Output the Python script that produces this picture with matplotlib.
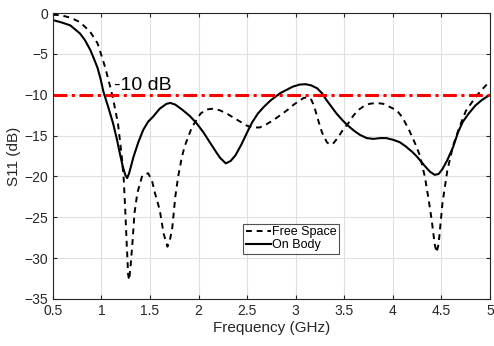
import matplotlib
matplotlib.use("Agg")
import matplotlib.pyplot as plt

plt.rcParams['font.family'] = ['Liberation Sans', 'DejaVu Sans']

freq_free = [0.5, 0.58, 0.68, 0.78, 0.885, 0.96, 0.99, 1.04, 1.09, 1.12, 1.17, 1.21, 1.23, 1.245,
             1.26, 1.275, 1.285, 1.3, 1.32, 1.34, 1.37, 1.42, 1.48, 1.52, 1.55, 1.6, 1.64, 1.68,
             1.71, 1.73, 1.76, 1.79, 1.83, 1.86, 1.93, 2.02, 2.08, 2.15, 2.22, 2.29, 2.36, 2.43,
             2.5, 2.56, 2.63, 2.7, 2.77, 2.84, 2.91, 2.98, 3.04, 3.08, 3.12, 3.16, 3.19, 3.22,
             3.27, 3.32, 3.35, 3.39, 3.43, 3.48, 3.54, 3.59, 3.64, 3.7, 3.76, 3.83, 3.9, 3.97,
             4.04, 4.1, 4.17, 4.23, 4.28, 4.33, 4.37, 4.4, 4.43, 4.45, 4.47, 4.51, 4.56, 4.62,
             4.69, 4.75, 4.82, 4.87, 4.93, 5.0]
s11_free = [-0.2, -0.25, -0.55, -1.1, -2.3, -3.7, -4.8, -6.7, -9.0, -10.5, -13.5, -17.6, -20.4, -24.1,
            -28.2, -32.0, -32.7, -31.0, -28.0, -24.5, -22.0, -19.9, -19.6, -20.5, -22.0, -24.1, -27.0, -28.6,
            -27.5, -26.2, -22.5, -20.0, -17.5, -16.2, -14.0, -12.3, -11.8, -11.7, -11.9, -12.3, -12.8, -13.3,
            -13.8, -14.0, -14.0, -13.6, -13.1, -12.5, -11.9, -11.2, -10.7, -10.4, -10.3, -10.6, -11.4, -12.7,
            -14.6, -15.8, -16.1, -15.9, -15.3, -14.4, -13.5, -12.6, -11.9, -11.4, -11.1, -11.0, -11.1, -11.5,
            -11.9, -12.8, -14.4, -16.0, -17.5, -20.1, -23.0, -25.4, -28.3, -29.3, -28.3, -23.3, -19.3, -16.2,
            -13.8, -12.0, -10.8, -10.0, -9.2, -8.3]

freq_body = [0.5, 0.58, 0.68, 0.78, 0.83, 0.885, 0.92, 0.96, 0.99, 1.02, 1.07, 1.12, 1.16, 1.19,
             1.22, 1.245, 1.265, 1.285, 1.31, 1.33, 1.38, 1.43, 1.48, 1.53, 1.6, 1.67, 1.71, 1.76,
             1.84, 1.91, 1.98, 2.05, 2.12, 2.18, 2.22, 2.28, 2.33, 2.38, 2.44, 2.5, 2.55, 2.61,
             2.67, 2.74, 2.84, 2.97, 3.04, 3.1, 3.16, 3.22, 3.27, 3.32, 3.37, 3.42, 3.48, 3.53,
             3.6, 3.66, 3.73, 3.8, 3.87, 3.93, 4.0, 4.07, 4.13, 4.2, 4.25, 4.32, 4.38, 4.43,
             4.47, 4.51, 4.56, 4.62, 4.67, 4.72, 4.78, 4.85, 4.92, 5.0]
s11_body = [-0.85, -1.1, -1.5, -2.5, -3.3, -4.5, -5.5, -6.7, -8.0, -9.6, -11.5, -13.5, -15.5, -17.2,
            -18.8, -19.8, -20.2, -19.6, -18.5, -17.6, -15.8, -14.3, -13.3, -12.7, -11.7, -11.1, -11.0, -11.2,
            -11.9, -12.6, -13.5, -14.6, -15.9, -17.0, -17.7, -18.4, -18.1, -17.4, -16.1, -14.6, -13.4, -12.3,
            -11.5, -10.7, -9.8, -9.0, -8.75, -8.7, -8.85, -9.2, -9.8, -10.7, -11.5, -12.3, -13.1, -13.7,
            -14.4, -14.9, -15.3, -15.4, -15.3, -15.3, -15.5, -15.8, -16.3, -17.0, -17.6, -18.6, -19.4, -19.8,
            -19.7, -19.1, -18.0, -16.4, -14.6, -13.3, -12.3, -11.3, -10.6, -10.0]

threshold = -10
threshold_label = "-10 dB"
x_ticks = [0.5, 1, 1.5, 2, 2.5, 3, 3.5, 4, 4.5, 5]
y_ticks = [0, -5, -10, -15, -20, -25, -30, -35]

fig = plt.figure(figsize=(4.94, 3.46), dpi=100)
ax = fig.add_axes([0.107, 0.136, 0.885, 0.826])

ax.plot(freq_free, s11_free, color='black', linestyle=(0, (3, 2.5)), linewidth=1.4,
        label='Free Space', solid_joinstyle='round')
ax.plot(freq_body, s11_body, color='black', linestyle='-', linewidth=1.5,
        label='On Body', solid_joinstyle='round')
ax.axhline(threshold, color='red', linestyle=(0, (4.5, 1.5, 1, 1.5)), linewidth=2.2)
ax.text(1.13, -9.45, threshold_label, fontsize=14, ha='left', va='baseline', color='black')

ax.set_xlim(0.5, 5)
ax.set_ylim(-35, 0)
ax.set_xticks(x_ticks)
ax.set_xticklabels([f"{t:g}" for t in x_ticks])
ax.set_yticks(y_ticks)
ax.grid(True, color='#e0e0e0', linewidth=0.8)
ax.set_axisbelow(True)
ax.tick_params(direction='in', length=3, labelsize=10, colors='#262626', labelcolor='#262626',
               top=True, right=True)
for sp in ax.spines.values():
    sp.set_color('#262626')
    sp.set_linewidth(0.8)
ax.set_xlabel('Frequency (GHz)', fontsize=11, color='#262626', labelpad=2)
ax.set_ylabel('S11 (dB)', fontsize=11, color='#262626', labelpad=2)

leg = ax.legend(loc='lower left', bbox_to_anchor=(0.435, 0.158), fontsize=9, frameon=True,
                fancybox=False, edgecolor='#262626', handlelength=2.0, handletextpad=0.1,
                borderpad=0.2, labelspacing=0.1, borderaxespad=0)
leg.get_frame().set_linewidth(0.8)

fig.savefig('out.png', dpi=100)
